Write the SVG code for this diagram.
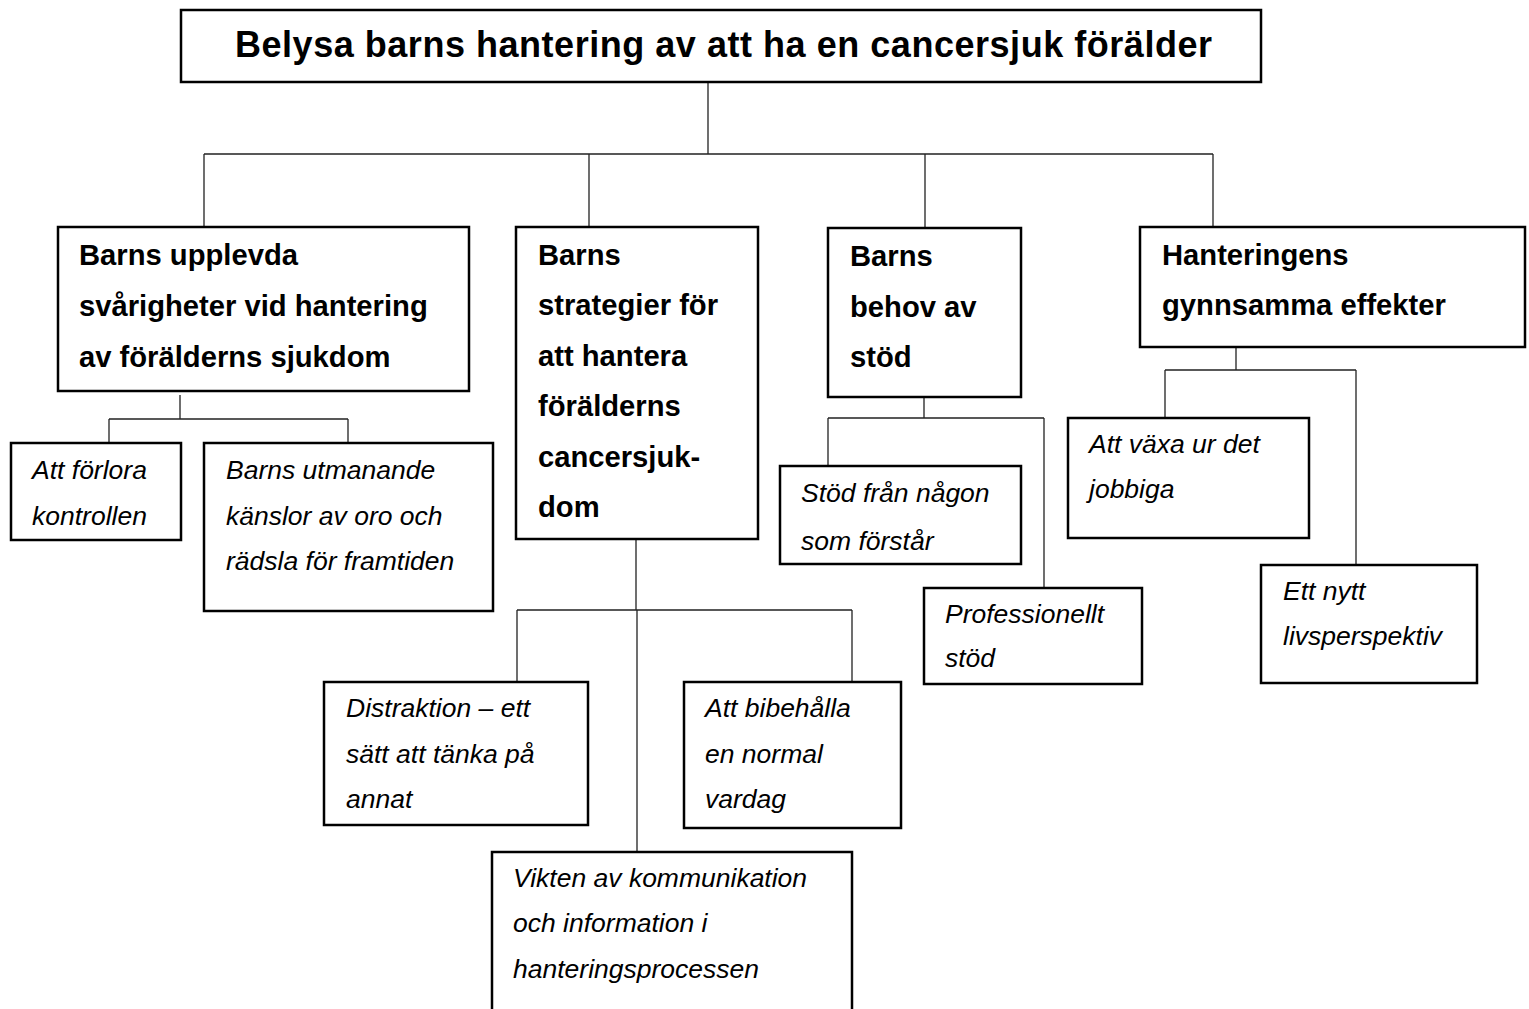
<svg xmlns="http://www.w3.org/2000/svg" width="1529" height="1009" viewBox="0 0 1529 1009">
<style>
.box{fill:#fff;stroke:#000;stroke-width:2.5}
.con{fill:none;stroke:#222;stroke-width:1.3}
.title{font-family:"Liberation Sans",Arial,sans-serif;font-weight:bold;font-size:36px;fill:#000}
.b{font-family:"Liberation Sans",Arial,sans-serif;font-weight:bold;font-size:29.2px;fill:#000}
.i{font-family:"Liberation Sans",Arial,sans-serif;font-style:italic;font-size:26.5px;fill:#000}
</style>
<rect width="1529" height="1009" fill="#fff"/>
<g id="connectors" class="con">
<path d="M708 82V154M204 154H1213M204 154V227M589 154V227M925 154V228M1213 154V227"/>
<path d="M180 395V419M109 419H348M109 419V443M348 419V443"/>
<path d="M636 539V610M517 610H852M517 610V682M852 610V682M637 610V852"/>
<path d="M924 397V418M828 418H1044M828 418V466M1044 418V588"/>
<path d="M1236 347V370M1165 370H1356M1165 370V418M1356 370V565"/>
</g>
<g id="title">
<rect class="box" x="181" y="10" width="1080" height="72"/>
<text class="title" x="235" y="57" textLength="977" lengthAdjust="spacing">Belysa barns hantering av att ha en cancersjuk förälder</text>
</g>
<g id="n1">
<rect class="box" x="58" y="227" width="411" height="164"/>
<text class="b" x="79" y="265">Barns upplevda</text>
<text class="b" x="79" y="316">svårigheter vid hantering</text>
<text class="b" x="79" y="367">av förälderns sjukdom</text>
</g>
<g id="n2">
<rect class="box" x="516" y="227" width="242" height="312"/>
<text class="b" x="538" y="265">Barns</text>
<text class="b" x="538" y="315">strategier för</text>
<text class="b" x="538" y="366">att hantera</text>
<text class="b" x="538" y="416">förälderns</text>
<text class="b" x="538" y="467">cancersjuk-</text>
<text class="b" x="538" y="517">dom</text>
</g>
<g id="n3">
<rect class="box" x="828" y="228" width="193" height="169"/>
<text class="b" x="850" y="266">Barns</text>
<text class="b" x="850" y="317">behov av</text>
<text class="b" x="850" y="367">stöd</text>
</g>
<g id="n4">
<rect class="box" x="1140" y="227" width="385" height="120"/>
<text class="b" x="1162" y="265">Hanteringens</text>
<text class="b" x="1162" y="315">gynnsamma effekter</text>
</g>
<g id="n1a">
<rect class="box" x="11" y="443" width="170" height="97"/>
<text class="i" x="32" y="479">Att förlora</text>
<text class="i" x="32" y="525">kontrollen</text>
</g>
<g id="n1b">
<rect class="box" x="204" y="443" width="289" height="168"/>
<text class="i" x="226" y="479">Barns utmanande</text>
<text class="i" x="226" y="525">känslor av oro och</text>
<text class="i" x="226" y="570">rädsla för framtiden</text>
</g>
<g id="n2a">
<rect class="box" x="324" y="682" width="264" height="143"/>
<text class="i" x="346" y="717">Distraktion – ett</text>
<text class="i" x="346" y="763">sätt att tänka på</text>
<text class="i" x="346" y="808">annat</text>
</g>
<g id="n2b">
<rect class="box" x="684" y="682" width="217" height="146"/>
<text class="i" x="705" y="717">Att bibehålla</text>
<text class="i" x="705" y="763">en normal</text>
<text class="i" x="705" y="808">vardag</text>
</g>
<g id="n2c">
<rect class="box" x="492" y="852" width="360" height="170"/>
<text class="i" x="513" y="887">Vikten av kommunikation</text>
<text class="i" x="513" y="932">och information i</text>
<text class="i" x="513" y="978">hanteringsprocessen</text>
</g>
<g id="n3a">
<rect class="box" x="780" y="466" width="241" height="98"/>
<text class="i" x="801" y="502">Stöd från någon</text>
<text class="i" x="801" y="550">som förstår</text>
</g>
<g id="n3b">
<rect class="box" x="924" y="588" width="218" height="96"/>
<text class="i" x="945" y="623">Professionellt</text>
<text class="i" x="945" y="667">stöd</text>
</g>
<g id="n4a">
<rect class="box" x="1068" y="418" width="241" height="120"/>
<text class="i" x="1089" y="453">Att växa ur det</text>
<text class="i" x="1089" y="498">jobbiga</text>
</g>
<g id="n4b">
<rect class="box" x="1261" y="565" width="216" height="118"/>
<text class="i" x="1283" y="600">Ett nytt</text>
<text class="i" x="1283" y="645">livsperspektiv</text>
</g>
</svg>
